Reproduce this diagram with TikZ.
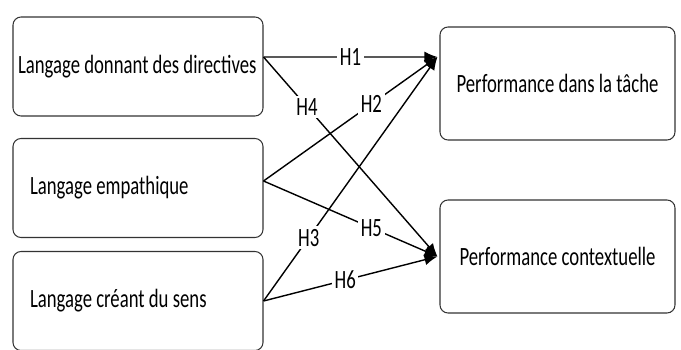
\documentclass[tikz,border=0pt]{standalone}
\usepackage{fontspec}
\setmainfont{Carlito}[FakeStretch=0.71]
\usetikzlibrary{arrows.meta}

\begin{document}
\begin{tikzpicture}[
        box/.style = {draw = black!80, line width = .6pt, rounded corners = .16cm, minimum height = 1.98cm, font = \fontsize{15}{17}\selectfont},
        leftbox/.style = {box, text width = 5cm - 2*.34cm, inner xsep = .34cm, align = flush left},
        rightbox/.style = {box, minimum width = 4.7cm, minimum height = 2.26cm, align = center},
        link/.style = {line width = .8pt, -{Latex[length = .26cm, width = .22cm]}},
        hyp/.style = {fill = white, inner sep = 1.5pt, font = \fontsize{15}{17}\selectfont}
    ]
        \useasboundingbox (0, 0) rectangle (13.62, 6.98);
        \node[leftbox, inner xsep = .1cm, text width = 5cm - 2*.1cm] (dir) at (2.76, 5.65) {Langage donnant des directives};
        \node[leftbox] (emp) at (2.76, 3.22) {Langage empathique};
        \node[leftbox] (sens) at (2.76, .96) {Langage créant du sens};
        \node[rightbox] (tache) at (11.15, 5.31) {Performance dans la tâche};
        \node[rightbox] (context) at (11.15, 1.85) {Performance contextuelle};
        \coordinate (outdir) at ([yshift = .19cm] dir.east);
        \coordinate (outemp) at ([yshift = .14cm] emp.east);
        \coordinate (outsens) at (sens.east);
        \coordinate (intache) at ([xshift = -.04cm, yshift = .53cm] tache.west);
        \coordinate (incontext) at ([xshift = -.04cm] context.west);
        \draw[link] (outdir) -- node[hyp, pos = .5] {H1} (intache);
        \draw[link] (outdir) -- node[hyp, pos = .25] {H4} (incontext);
        \draw[link] (outemp) -- node[hyp, pos = .62] {H2} (intache);
        \draw[link] (outemp) -- node[hyp, pos = .62] {H5} (incontext);
        \draw[link] (outsens) -- node[hyp, pos = .26] {H3} (intache);
        \draw[link] (outsens) -- node[hyp, pos = .47] {H6} (incontext);
    \end{tikzpicture}
\end{document}
